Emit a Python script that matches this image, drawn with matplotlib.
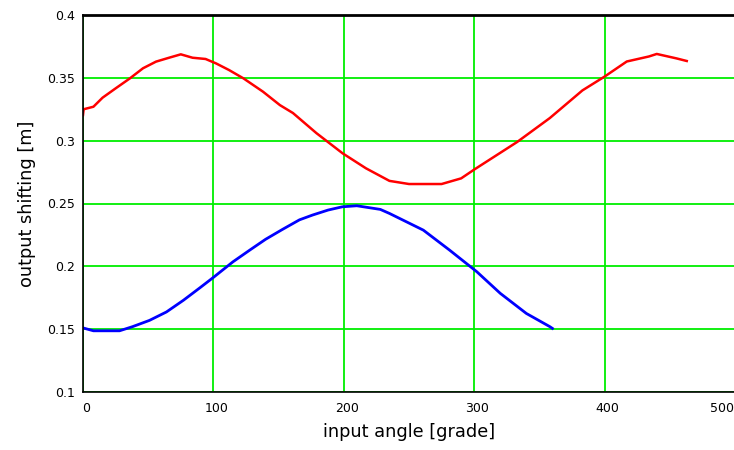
import numpy as np
import matplotlib
matplotlib.use('Agg')
import matplotlib.pyplot as plt
import matplotlib.transforms as mtransforms

# Werte

red_x = [0, 0.5, 8, 15, 25, 36, 46, 56, 66, 75, 84, 94, 102, 112, 123,
         138, 151, 161, 179, 199, 217, 235, 250, 275, 290, 300, 333, 358,
         383, 400, 417, 434, 440, 455, 463]
red_y = [0.3204, 0.325, 0.327, 0.3342, 0.3416, 0.3496, 0.3576, 0.3629,
         0.366, 0.3687, 0.366, 0.365, 0.3615, 0.3562, 0.3496, 0.339, 0.3283,
         0.322, 0.306, 0.290, 0.278, 0.268, 0.2655, 0.2655, 0.270, 0.277,
         0.299, 0.318, 0.340, 0.351, 0.363, 0.367, 0.369, 0.3655, 0.3634]

blue_x = [0, 8, 28, 38, 51, 64, 77, 90, 100, 115, 128, 140, 153, 166, 176,
          188, 199, 210, 228, 235, 261, 281, 302, 320, 340, 358, 360]
blue_y = [0.151, 0.1487, 0.1487, 0.152, 0.157, 0.1637, 0.173, 0.1832,
          0.1912, 0.2036, 0.213, 0.2215, 0.2294, 0.237, 0.2408, 0.2448,
          0.2474, 0.2482, 0.2453, 0.2421, 0.2288, 0.213, 0.1957, 0.1785,
          0.1625, 0.152, 0.1506]

x_ticks = [0, 100, 200, 300, 400, 500]
y_ticks = [0.1, 0.15, 0.2, 0.25, 0.3, 0.35, 0.4]
y_ticklabels = ['0.1', '0.15', '0.2', '0.25', '0.3', '0.35', '0.4']

fig = plt.figure(figsize=(7.34, 4.5), dpi=100)
ax = fig.add_axes([83/734, 1 - 392/450, 652/734, 377/450])

ax.plot(red_x, red_y, color='#ff0000', linewidth=1.8)
ax.plot(blue_x, blue_y, color='#0000ff', linewidth=2.0)

ax.set_xlim(0, 500)
ax.set_ylim(0.1, 0.4)
ax.set_xticks(x_ticks)
ax.set_xticklabels([str(t) for t in x_ticks])
ax.set_yticks(y_ticks)
ax.set_yticklabels(y_ticklabels)
ax.tick_params(length=0, labelsize=9, pad=6)
ax.tick_params(axis='x', pad=7)

# x-Beschriftung leicht nach rechts wie im Original, letzte nach links
labs = ax.get_xticklabels()
for i, lab in enumerate(labs):
    dx = 3/100 if i < len(labs) - 1 else -13/100
    offset = mtransforms.ScaledTranslation(dx, 0, fig.dpi_scale_trans)
    lab.set_transform(lab.get_transform() + offset)

ax.grid(True, color='#00ee00', linewidth=1.3)
ax.set_axisbelow(True)

for s in ['left', 'bottom']:
    ax.spines[s].set_color('black')
    ax.spines[s].set_linewidth(1.2)
ax.spines['top'].set_color('black')
ax.spines['top'].set_linewidth(2.0)
ax.spines['right'].set_visible(False)

ax.set_xlabel('input angle [grade]', fontsize=12.8, labelpad=6)
ax.set_ylabel('output shifting [m]', fontsize=12.8, labelpad=8)

plt.savefig('out.png', dpi=100)
